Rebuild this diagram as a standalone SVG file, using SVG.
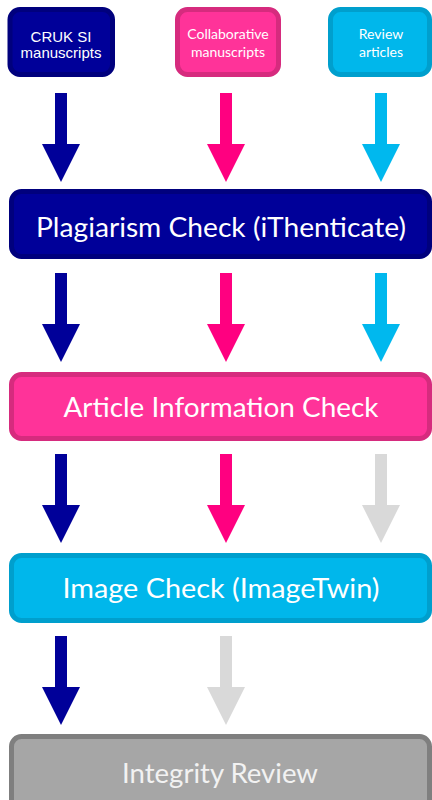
<svg xmlns="http://www.w3.org/2000/svg" width="432" height="800" viewBox="0 0 432 800">
<style>
.src{stroke-width:5}
.big{stroke-width:5}
.t-arial{font-family:"Liberation Sans",Arial,sans-serif;font-size:15px;fill:#ffffff;text-anchor:middle}
.t-cal{font-family:Lato,"Noto Sans",sans-serif;font-size:14px;fill:#ffffff;text-anchor:middle}
.t-big{font-family:Lato,"Noto Sans",sans-serif;font-size:26px;fill:#ffffff;text-anchor:middle}
.navy{fill:#000099;stroke:#00007d}
.pink{fill:#ff3399;stroke:#d62b7e}
.cyan{fill:#00b7eb;stroke:#009fcd}
.grey{fill:#a6a6a6;stroke:#7f7f7f}
.a-navy{fill:#000099}
.a-pink{fill:#ff0080}
.a-cyan{fill:#00b8ee}
.a-grey{fill:#d9d9d9}
</style>
<defs>
<path id="arr" d="M-6,0 L6,0 L6,51 L19,51 L0,89 L-19,51 L-6,51 Z"/>
</defs>
<g id="node-cruk">
<rect class="src navy" x="10" y="9.5" width="102.5" height="65" rx="10"/>
<text class="t-arial" x="61" y="42">CRUK SI</text>
<text class="t-arial" x="61" y="58">manuscripts</text>
</g>
<g id="node-collab">
<rect class="src pink" x="177.5" y="9.5" width="101" height="65" rx="10"/>
<text class="t-cal" x="228" y="39">Collaborative</text>
<text class="t-cal" x="228" y="57">manuscripts</text>
</g>
<g id="node-review">
<rect class="src cyan" x="330.5" y="9.5" width="99" height="65" rx="10"/>
<text class="t-cal" x="381" y="39">Review</text>
<text class="t-cal" x="381" y="57">articles</text>
</g>
<g id="node-plagiarism">
<rect class="big navy" x="11.5" y="191.5" width="418" height="65" rx="10"/>
<text class="t-big" x="221" y="237" textLength="370" lengthAdjust="spacingAndGlyphs">Plagiarism Check (iThenticate)</text>
</g>
<g id="node-article">
<rect class="big pink" x="11.5" y="374.5" width="418" height="64" rx="10"/>
<text class="t-big" x="221" y="417" textLength="315" lengthAdjust="spacingAndGlyphs">Article Information Check</text>
</g>
<g id="node-image">
<rect class="big cyan" x="11.5" y="555.5" width="418" height="65" rx="10"/>
<text class="t-big" x="221" y="598" textLength="317" lengthAdjust="spacingAndGlyphs">Image Check (ImageTwin)</text>
</g>
<g id="node-integrity">
<rect class="big grey" x="11.5" y="736.5" width="418" height="75" rx="10"/>
<text class="t-big" x="220" y="783" textLength="196" lengthAdjust="spacingAndGlyphs" style="fill:#f2f2f2">Integrity Review</text>
</g>
<g id="connectors">
<use href="#arr" class="a-navy" transform="translate(61,93)"/>
<use href="#arr" class="a-pink" transform="translate(226,93)"/>
<use href="#arr" class="a-cyan" transform="translate(381,93)"/>
<use href="#arr" class="a-navy" transform="translate(61,273)"/>
<use href="#arr" class="a-pink" transform="translate(226,273)"/>
<use href="#arr" class="a-cyan" transform="translate(381,273)"/>
<use href="#arr" class="a-navy" transform="translate(61,454)"/>
<use href="#arr" class="a-pink" transform="translate(226,454)"/>
<use href="#arr" class="a-grey" transform="translate(381,454)"/>
<use href="#arr" class="a-navy" transform="translate(61,636)"/>
<use href="#arr" class="a-grey" transform="translate(226,636)"/>
</g>
</svg>
